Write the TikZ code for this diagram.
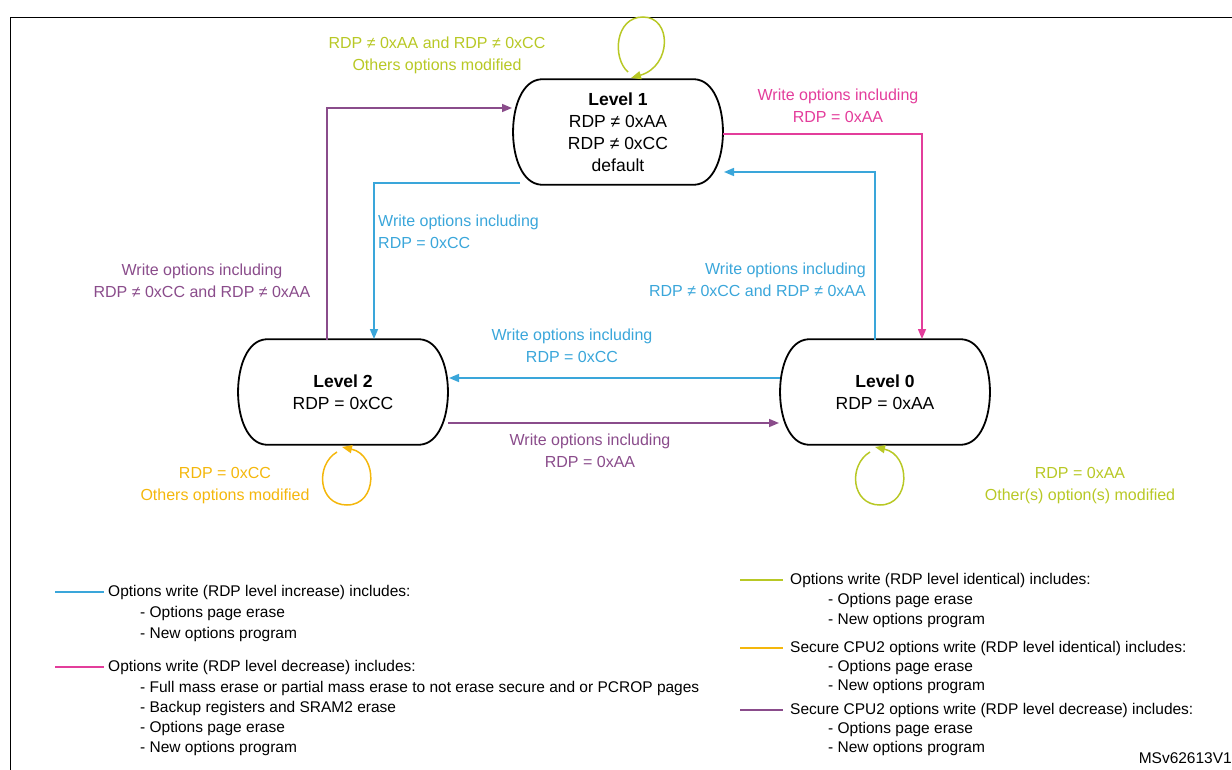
\documentclass[tikz,border=0pt]{standalone}
\usepackage{fontspec}
\setmainfont{Liberation Sans}
\usetikzlibrary{calc,arrows.meta}
\definecolor{cblue}{HTML}{3AA6DA}
\definecolor{cpink}{HTML}{E33D9B}
\definecolor{cpurp}{HTML}{8A4C8B}
\definecolor{cgreen}{HTML}{B8C825}
\definecolor{cyel}{HTML}{F4B70C}
\begin{document}
\begin{tikzpicture}[x=1pt,y=-1pt,
  st/.style={minimum width=210pt,minimum height=105pt,inner sep=0pt,align=center,font=\fontsize{17.5}{22}\selectfont},
  lab/.style={font=\fontsize{16}{22}\selectfont,align=center,inner sep=0pt},
  leg/.style={font=\fontsize{15.5}{18}\selectfont,anchor=west,inner sep=0pt},
  arr/.style={line width=1.5pt,-{Triangle[length=10pt,width=8pt]}},
  shp/.style={line width=1.8pt,black}]
\useasboundingbox (0,0) rectangle (1232,770);
\draw[line width=1pt] (10,770) -- (10,18) -- (1240,18);
\newcommand{\stshape}[1]{%
  \draw[shp] ($(#1.north west)+(28,0)$) -- ($(#1.north east)+(-28,0)$)
   .. controls ($(#1.east)+(9,-50)$) and ($(#1.east)+(9,50)$) .. ($(#1.south east)+(-28,0)$)
   -- ($(#1.south west)+(28,0)$)
   .. controls ($(#1.west)+(-9,50)$) and ($(#1.west)+(-9,-50)$) .. ($(#1.north west)+(28,0)$);}
\node[st] (l1) at (618,132) {\textbf{Level 1}\\RDP ≠ 0xAA\\RDP ≠ 0xCC\\default};
\node[st] (l2) at (343,392) {\textbf{Level 2}\\RDP = 0xCC};
\node[st] (l0) at (885,392) {\textbf{Level 0}\\RDP = 0xAA};
\stshape{l1}\stshape{l2}\stshape{l0}
% connectors
\coordinate (a1) at (327,108); \coordinate (a2) at (922,134);
\coordinate (a3) at (374,183); \coordinate (a4) at (875,172);
\draw[arr,cpurp] (327,340) -- (a1) -- (512,108);
\draw[arr,cpink] (723,134) -- (a2) -- (922,339);
\draw[arr,cblue] (520,183) -- (a3) -- (374,339);
\draw[arr,cblue] (875,340) -- (a4) -- (724,172);
\draw[arr,cblue] (780,378) -- (449,378);
\draw[arr,cpurp] (448,423) -- (779,423);
% loops
\draw[arr,cgreen] (628,72) .. controls (612,58) and (615,17) .. (643,17) .. controls (672,17) and (672,66) .. (631,78);
\draw[arr,cyel] (337,452) .. controls (315,465) and (318,505) .. (347,505) .. controls (378,505) and (378,455) .. (342,447);
\draw[arr,cgreen] (870,452) .. controls (848,465) and (851,505) .. (880,505) .. controls (911,505) and (911,455) .. (875,447);
% labels
\node[lab,cgreen] at (437,55) {RDP ≠ 0xAA and RDP ≠ 0xCC\\Others options modified};
\node[lab,cpink] at (838,106) {Write options including\\RDP = 0xAA};
\node[lab,cblue,align=left,anchor=west] at (378,232) {Write options including\\RDP = 0xCC};
\node[lab,cpurp] at (202,281) {Write options including\\RDP ≠ 0xCC and RDP ≠ 0xAA};
\node[lab,cblue,align=right,anchor=east] at (866,280) {Write options including\\RDP ≠ 0xCC and RDP ≠ 0xAA};
\node[lab,cblue] at (572,346) {Write options including\\RDP = 0xCC};
\node[lab,cpurp] at (590,451) {Write options including\\RDP = 0xAA};
\node[lab,cyel] at (225,486) {RDP = 0xCC\\Others options modified};
\node[lab,cgreen] at (1080,486) {RDP = 0xAA\\Other(s) option(s) modified};
% legend
\draw[line width=1.3pt,cblue] (55,592) -- (104,592);
\node[leg] at (108,592) {Options write (RDP level increase) includes:};
\node[leg] at (140,613) {- Options page erase};
\node[leg] at (140,634) {- New options program};
\draw[line width=1.3pt,cpink] (55,667) -- (104,667);
\node[leg] at (108,667) {Options write (RDP level decrease) includes:};
\node[leg] at (140,688) {- Full mass erase or partial mass erase to not erase secure and or PCROP pages};
\node[leg] at (140,708) {- Backup registers and SRAM2 erase};
\node[leg] at (140,728) {- Options page erase};
\node[leg] at (140,748) {- New options program};
\draw[line width=1.3pt,cgreen] (740,580) -- (783,580);
\node[leg] at (790,580) {Options write (RDP level identical) includes:};
\node[leg] at (828,600) {- Options page erase};
\node[leg] at (828,620) {- New options program};
\draw[line width=1.3pt,cyel] (740,648) -- (783,648);
\node[leg] at (790,648) {Secure CPU2 options write (RDP level identical) includes:};
\node[leg] at (828,667) {- Options page erase};
\node[leg] at (828,686) {- New options program};
\draw[line width=1.3pt,cpurp] (740,710) -- (783,710);
\node[leg] at (790,710) {Secure CPU2 options write (RDP level decrease) includes:};
\node[leg] at (828,729) {- Options page erase};
\node[leg] at (828,748) {- New options program};
\node[leg,anchor=east] at (1232,758) {MSv62613V1};
\end{tikzpicture}
\end{document}
